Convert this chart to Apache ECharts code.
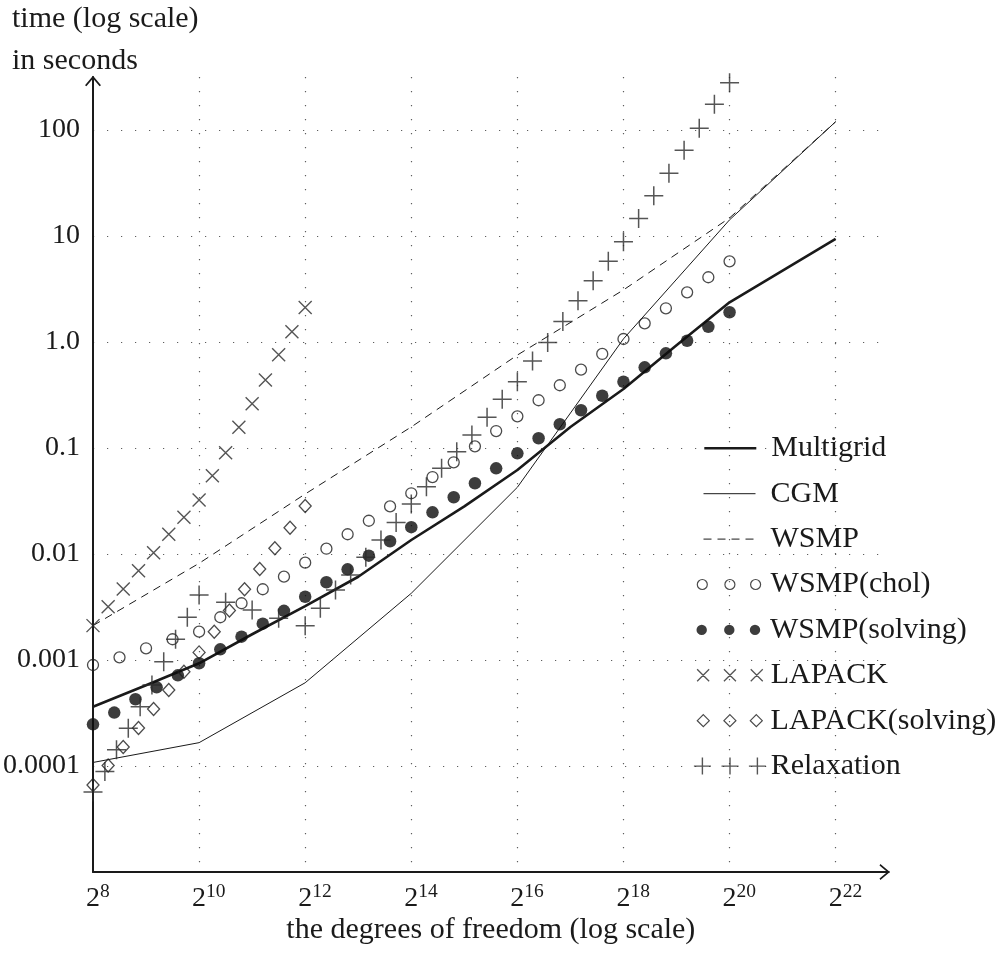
<!DOCTYPE html>
<html>
<head>
<meta charset="utf-8">
<script src="https://cdn.jsdelivr.net/npm/echarts@6/dist/echarts.min.js"></script>
<style>
  html, body { margin: 0; padding: 0; background: #ffffff; }
  #chart { width: 1007px; height: 959px; }
</style>
</head>
<body>
<div id="chart"></div>
<script>
// ---- Measured run times (seconds) against degrees of freedom ----

const multigridDof  = [256, 512, 1024, 2048, 4096, 8192, 16384, 32768, 65536, 131072, 262144, 524288, 1048576, 4194304];
const multigridTime = [3.62e-4, 5.77e-4, 9.31e-4, 1.75e-3, 3.23e-3, 6.1e-3, 0.01355, 0.0281, 0.062, 0.158, 0.36, 0.931, 2.37, 9.38];

const cgmDof  = [256, 1024, 4096, 16384, 65536, 262144, 1048576, 4194304];
const cgmTime = [1.08e-4, 1.66e-4, 6.1e-4, 4.26e-3, 0.0426, 1.07, 14.2, 119.7];

const wsmpDof  = [256, 1024, 4096, 16384, 65536, 262144, 1048576, 4194304];
const wsmpTime = [0.00211, 0.00817, 0.0368, 0.158, 0.753, 3.10, 14.8, 119.7];

const cholDof  = [256, 362, 512, 724, 1024, 1351, 1783, 2353, 3104, 4096, 5405, 7132, 9410, 12417,
                  16384, 21619, 28526, 37641, 49667, 65536, 86475, 114105, 150562, 198666,
                  262144, 345899, 456419, 602250, 794664, 1048576];
const cholTime = [0.000897, 0.00106, 0.00129, 0.00157, 0.00185, 0.00253, 0.00343, 0.00465, 0.00611, 0.00828,
                  0.01122, 0.01535, 0.0206, 0.0281, 0.0374, 0.0532, 0.0733, 0.1037, 0.1445, 0.199,
                  0.282, 0.391, 0.548, 0.771, 1.067, 1.50, 2.08, 2.94, 4.08, 5.77];

const solveDof  = [256, 338, 446, 588, 776, 1024, 1351, 1783, 2353, 3104, 4096, 5405, 7132, 9410, 12417,
                   16384, 21619, 28526, 37641, 49667, 65536, 86475, 114105, 150562, 198666,
                   262144, 345899, 456419, 602250, 794664, 1048576];
const solveTime = [0.000247, 0.000319, 0.000426, 0.000552, 0.000717, 0.000931, 0.00126, 0.00166, 0.00220, 0.00291,
                   0.00395, 0.00541, 0.00717, 0.00964, 0.0132, 0.0179, 0.0247, 0.0343, 0.0465, 0.0643,
                   0.0891, 0.1235, 0.1675, 0.227, 0.311, 0.422, 0.577, 0.782, 1.028, 1.39, 1.91];

const lapackDof  = [256, 312, 380, 464, 565, 689, 840, 1024, 1218, 1448, 1722, 2048, 2436, 2896, 3444, 4096];
const lapackTime = [0.00211, 0.00318, 0.00468, 0.00696, 0.01028, 0.01535, 0.0222, 0.0323,
                    0.0548, 0.0903, 0.1568, 0.262, 0.438, 0.759, 1.25, 2.12];

const lapackSolveDof  = [256, 312, 380, 464, 565, 689, 840, 1024, 1248, 1522, 1855, 2261, 2756, 3360, 4096];
const lapackSolveTime = [6.62e-5, 1.01e-4, 1.51e-4, 2.28e-4, 3.45e-4, 5.21e-4, 7.76e-4, 1.18e-3,
                         1.85e-3, 2.93e-3, 4.65e-3, 7.21e-3, 0.01133, 0.0177, 0.0284];

const relaxDof  = [256, 299, 348, 406, 474, 553, 645, 753, 878, 1024,
                   1448, 2048, 2896, 4096,
                   4993, 6087, 7420, 9045, 11026, 13440, 16384, 19972, 24347, 29679, 36179, 44102, 53762,
                   65536, 79889, 97386, 118715, 144715, 176410, 215046, 262144, 319555, 389543, 474861,
                   578862, 705638, 860180, 1048576];
const relaxTime = [5.7e-5, 8.85e-5, 1.42e-4, 2.27e-4, 3.63e-4, 5.81e-4, 9.64e-4, 1.57e-3, 2.53e-3, 4.1e-3,
                   0.0035, 0.00296, 0.00247, 0.00211,
                   0.00308, 0.00457, 0.00634, 0.00931, 0.01355, 0.0198, 0.0296, 0.0432, 0.0643, 0.0922,
                   0.1327, 0.195, 0.288, 0.422, 0.662, 0.989, 1.557, 2.45, 3.79, 5.77, 8.83, 14.6,
                   24.0, 39.1, 64.3, 103.8, 174.8, 279];

// Axis ticks
const xTickExponents = [8, 10, 12, 14, 16, 18, 20, 22];
const yTickValues = [1e-4, 1e-3, 1e-2, 0.1, 1, 10, 100];
const yTickLabels = ['0.0001', '0.001', '0.01', '0.1', '1.0', '10', '100'];

// ---- Drawing ----
const FONT = '"Liberation Serif", "Times New Roman", serif';
const INK = '#1a1a1a';
const TEXT_SIZE = 30;   // captions, legend, axis name
const TICK_SIZE = 28;   // tick numbers
const zip = (xs, ys) => xs.map((x, i) => [x, ys[i]]);

const arrowHead = 'path://M0,9.5 L8,0 L16,9.5 L14.6,10.4 L8,2.6 L1.4,10.4 Z';
const gridDots = { color: '#5e5e5e', width: 1.2, type: [1.2, 12.8] };

function lineSeries(name, dof, time, style) {
  return {
    name, type: 'line', data: zip(dof, time), symbol: 'none', showSymbol: false,
    lineStyle: Object.assign({ color: INK }, style), z: 2, silent: true
  };
}
function markSeries(name, dof, time, symbol, size, itemStyle) {
  return {
    name, type: 'scatter', data: zip(dof, time), symbol, symbolSize: size,
    itemStyle, z: 3, silent: true
  };
}

const crossPath = 'path://M0,0L10,10M10,0L0,10';
const plusPath = 'path://M0,5L10,5M5,0L5,10';
const hollow = 'rgba(0,0,0,0)';

const series = [
  lineSeries('Multigrid', multigridDof, multigridTime, { width: 2.6 }),
  lineSeries('CGM', cgmDof, cgmTime, { width: 1 }),
  lineSeries('WSMP', wsmpDof, wsmpTime, { width: 1, type: [8, 6] }),
  markSeries('WSMP(chol)', cholDof, cholTime, 'circle', 11, { color: hollow, borderColor: '#1e1e1e', borderWidth: 1.3 }),
  markSeries('WSMP(solving)', solveDof, solveTime, 'circle', 12.5, { color: '#0d0d0d' }),
  markSeries('LAPACK', lapackDof, lapackTime, crossPath, 13, { color: hollow, borderColor: '#2a2a2a', borderWidth: 1.4 }),
  markSeries('LAPACK(solving)', lapackSolveDof, lapackSolveTime, 'diamond', [12, 13], { color: hollow, borderColor: '#1e1e1e', borderWidth: 1.3 }),
  markSeries('Relaxation', relaxDof, relaxTime, plusPath, 19, { color: hollow, borderColor: '#2a2a2a', borderWidth: 1.5 })
];

// Legend sample glyphs: three small markers in a row
function triple(centers, draw) {
  return 'path://' + centers.map(draw).join(' ');
}
const circleAt = r => cx => `M${cx - r},${r} A${r},${r} 0 1 0 ${cx + r},${r} A${r},${r} 0 1 0 ${cx - r},${r} Z`;

const TEXT_X = 770;
const ROW0 = 448.3, ROW_PITCH = 45.4;
const legendRows = [
  { name: 'Multigrid', left: 703, w: 52, h: 14, line: { width: 2.6, color: INK, type: 'solid' } },
  { name: 'CGM', left: 703, w: 52, h: 14, line: { width: 1, color: INK, type: 'solid' } },
  { name: 'WSMP', left: 703, w: 52, h: 14, line: { width: 1, color: INK, type: [8, 6] } },
  { name: 'WSMP(chol)', left: 696.7, w: 63.3, h: 10,
    icon: triple([5, 32.6, 58.3], circleAt(5)),
    style: { color: hollow, borderColor: '#1e1e1e', borderWidth: 1.2 } },
  { name: 'WSMP(solving)', left: 696.5, w: 63.7, h: 10.4,
    icon: triple([5.2, 32.8, 58.5], circleAt(5.2)),
    style: { color: '#0d0d0d', borderWidth: 0 } },
  { name: 'LAPACK', left: 696.5, w: 65.6, h: 12,
    icon: triple([6, 32.8, 59.6], c => `M${c - 6},0 L${c + 6},12 M${c + 6},0 L${c - 6},12`),
    style: { color: hollow, borderColor: '#2a2a2a', borderWidth: 1.3 } },
  { name: 'LAPACK(solving)', left: 696.7, w: 65, h: 12,
    icon: triple([6, 32.6, 59], c => `M${c},0 L${c + 6},6 L${c},12 L${c - 6},6 Z`),
    style: { color: hollow, borderColor: '#1e1e1e', borderWidth: 1.2 } },
  { name: 'Relaxation', left: 693.2, w: 72, h: 17,
    icon: triple([8.5, 36.1, 63.5], c => `M${c - 8.5},8.5 L${c + 8.5},8.5 M${c},0 L${c},17`),
    style: { color: hollow, borderColor: '#2a2a2a', borderWidth: 1.4 } }
];

const LIFT = 6;                        // bottom padding that raises a caption a little above its sample
const ROW_BOX = TEXT_SIZE + LIFT;
const legends = legendRows.map((r, i) => {
  const item = { name: r.name };
  if (r.icon) {
    item.icon = r.icon;
    item.itemStyle = r.style;
  } else {
    item.itemStyle = { color: hollow, borderColor: hollow, borderWidth: 0 };
    item.lineStyle = r.line;
  }
  return {
    data: [item],
    orient: 'vertical',
    left: r.left,
    top: ROW0 + i * ROW_PITCH - ROW_BOX / 2,
    padding: 0,
    itemWidth: r.w,
    itemHeight: r.h,
    symbolKeepAspect: false,
    selectedMode: false,
    textStyle: {
      fontFamily: FONT, fontSize: TEXT_SIZE, color: INK, lineHeight: TEXT_SIZE,
      padding: [0, 0, LIFT, TEXT_X - (r.left + r.w + 5)]
    }
  };
});

const option = {
  animation: false,
  backgroundColor: '#ffffff',
  title: {
    text: 'time (log scale)\nin seconds',
    left: 12, top: -2, padding: 0,
    textStyle: { fontFamily: FONT, fontSize: TEXT_SIZE, fontWeight: 'normal', color: INK, lineHeight: 42 }
  },
  grid: { left: 91.5, right: 118.3, top: 77, bottom: 87, containLabel: false },
  xAxis: {
    type: 'log', logBase: 4, min: 256, max: 8388608,
    name: 'the degrees of freedom (log scale)',
    nameLocation: 'middle', nameGap: 43, nameMoveOverlap: false,
    nameTextStyle: { fontFamily: FONT, fontSize: TEXT_SIZE, color: INK },
    axisLine: {
      onZero: false, lineStyle: { color: INK, width: 2 },
      symbol: ['none', arrowHead], symbolSize: [16, 10.4], symbolOffset: [0, -4]
    },
    axisTick: { show: false },
    splitLine: { show: true, showMinLine: false, showMaxLine: false, lineStyle: gridDots },
    axisLabel: {
      showMinLabel: true, showMaxLabel: false, margin: 10,
      formatter: v => {
        const e = Math.round(Math.log2(v));
        if (Math.abs(Math.log2(v) - e) > 0.01 || xTickExponents.indexOf(e) < 0) return '';
        return `{b${String(e).length}|2}{s|${e}}`;
      },
      rich: {
        b1: { fontFamily: FONT, fontSize: TICK_SIZE, color: INK, padding: [0, 0, 0, 9.8] },
        b2: { fontFamily: FONT, fontSize: TICK_SIZE, color: INK, padding: [0, 0, 0, 19.5] },
        s: { fontFamily: FONT, fontSize: 19.5, color: INK, padding: [0, 0, 14, 0] }
      }
    }
  },
  yAxis: {
    type: 'log', logBase: 10, min: 1e-5, max: 316.2278,
    axisLine: {
      onZero: false, lineStyle: { color: INK, width: 2 },
      symbol: ['none', arrowHead], symbolSize: [16, 10.4], symbolOffset: [0, -4]
    },
    axisTick: { show: false },
    splitLine: { show: true, showMinLine: false, showMaxLine: false, lineStyle: gridDots },
    axisLabel: {
      showMinLabel: false, showMaxLabel: false, margin: 13,
      fontFamily: FONT, fontSize: TICK_SIZE, color: INK,
      formatter: v => {
        const i = yTickValues.findIndex(t => Math.abs(Math.log10(v / t)) < 0.01);
        return i < 0 ? '' : yTickLabels[i];
      }
    }
  },
  legend: legends,
  series
};

const chart = echarts.init(document.getElementById('chart'), null, { renderer: 'canvas' });
chart.setOption(option);
</script>
</body>
</html>
